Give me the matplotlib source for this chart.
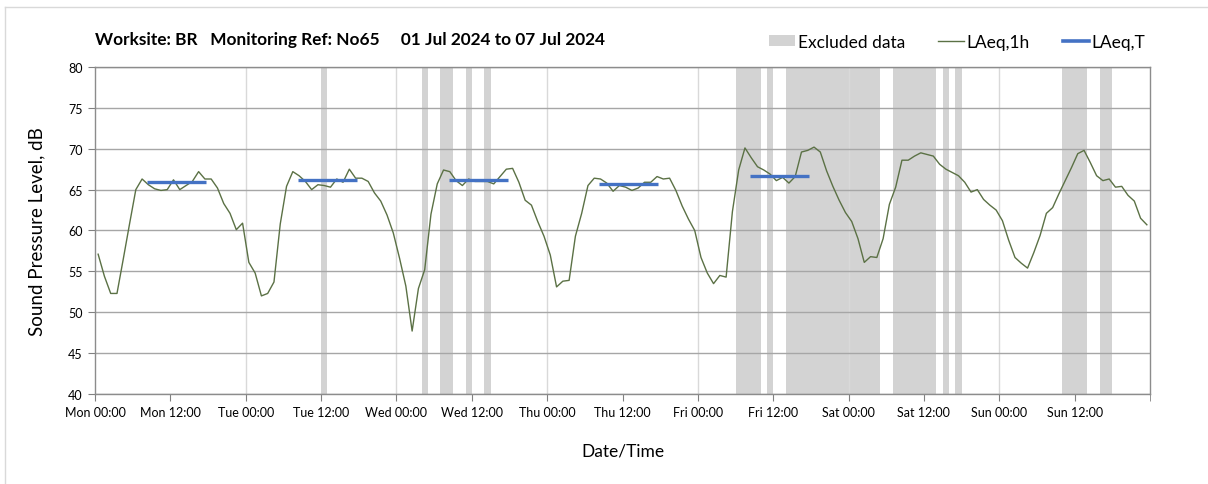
import numpy as np
import matplotlib
matplotlib.use("Agg")
import matplotlib.pyplot as plt
from matplotlib.lines import Line2D
from matplotlib.patches import Patch

plt.rcParams["font.family"] = ["Lato", "DejaVu Sans"]

# Hourly LAeq,1h values (dB), Mon 00:00 .. Sun 23:00
laeq_1h = [
    57.1, 54.4, 52.3, 52.3, 56.5, 60.8, 65.0, 66.3, 65.6, 65.1, 64.9, 65.0,
    66.2, 65.0, 65.5, 66.0, 67.2, 66.3, 66.3, 65.2, 63.3, 62.1, 60.1, 60.9,
    56.1, 54.8, 52.0, 52.3, 53.7, 60.8, 65.4, 67.2, 66.7, 66.0, 65.0, 65.6,
    65.5, 65.3, 66.3, 65.9, 67.5, 66.4, 66.4, 66.0, 64.6, 63.6, 61.9, 59.7,
    56.6, 53.2, 47.7, 52.9, 55.2, 62.0, 65.7, 67.4, 67.2, 66.1, 65.5, 66.3,
    66.0, 66.0, 66.0, 65.7, 66.6, 67.5, 67.6, 65.9, 63.7, 63.1, 61.1, 59.3,
    57.0, 53.1, 53.8, 53.9, 59.3, 62.1, 65.5, 66.4, 66.3, 65.8, 64.8, 65.5,
    65.3, 64.9, 65.2, 65.9, 65.9, 66.6, 66.3, 66.4, 64.9, 63.0, 61.4, 60.0,
    56.7, 54.8, 53.5, 54.5, 54.3, 62.3, 67.4, 70.1, 68.9, 67.8, 67.4, 66.9,
    66.1, 66.5, 65.8, 66.6, 69.6, 69.8, 70.2, 69.6, 67.3, 65.4, 63.7, 62.2,
    61.1, 59.0, 56.1, 56.8, 56.7, 59.0, 63.2, 65.3, 68.6, 68.6, 69.1, 69.5,
    69.3, 69.1, 68.1, 67.5, 67.1, 66.7, 65.9, 64.7, 65.0, 63.8, 63.1, 62.5,
    61.2, 58.8, 56.7, 56.0, 55.4, 57.3, 59.4, 62.1, 62.8, 64.5, 66.1, 67.7,
    69.4, 69.8, 68.3, 66.7, 66.1, 66.3, 65.3, 65.4, 64.3, 63.6, 61.5, 60.7,
]

# LAeq,T daytime averages (Mon..Fri), with start/end hour of day
laeq_t_days = [0, 1, 2, 3, 4]
laeq_t = [65.9, 66.2, 66.2, 65.7, 66.7]
laeq_t_start = 8.3
laeq_t_end = 17.7

# excluded periods, hours from Mon 00:00
excluded = [
    (36, 37), (52, 53), (55, 57), (59, 60), (62, 63), (102, 106), (107, 108),
    (110, 125), (127, 134), (135, 136), (137, 138), (154, 158), (160, 162),
]

days = ["Mon", "Tue", "Wed", "Thu", "Fri", "Sat", "Sun"]
tick_labels = [f"{d} {t}" for d in days for t in ("00:00", "12:00")]

grey_span = "#d3d3d3"
green = "#5b7145"
blue = "#4472c4"

fig = plt.figure(figsize=(12.08, 4.85), dpi=100)
ax = fig.add_axes([95 / 1208, 1 - 395 / 485, 1055 / 1208, 327 / 485])

for a, b in excluded:
    ax.axvspan(a, b, color=grey_span, lw=0, zorder=0.2)

hours = np.arange(len(laeq_1h)) + 0.5
ax.plot(hours, laeq_1h, color=green, lw=1.0, zorder=3)

for d, v in zip(laeq_t_days, laeq_t):
    ax.plot([24 * d + laeq_t_start, 24 * d + laeq_t_end], [v, v],
            color=blue, lw=2.4, solid_capstyle="butt", zorder=4)

ax.set_xlim(0, 168)
ax.set_ylim(40, 80)
ax.set_xticks(np.arange(0, 168, 12))
ax.set_xticklabels(tick_labels, fontsize=9)
ax.set_xticks([168], minor=True)
ax.set_yticks(np.arange(40, 81, 5))
ax.tick_params(axis="y", labelsize=9, length=5, color="#808080", pad=4)
ax.tick_params(axis="x", which="both", length=5, color="#808080", pad=4)

ax.set_axisbelow(True)
ax.yaxis.grid(True, color="#a6a6a6", lw=1.0)
for d in range(1, 7):
    ax.axvline(24 * d, color="#d9d9d9", lw=1.0, zorder=0.5)
for s in ax.spines.values():
    s.set_color("#8c8c8c")
    s.set_linewidth(1.0)

ax.set_ylabel("Sound Pressure Level, dB", fontsize=13.5, labelpad=16)
ax.set_xlabel("Date/Time", fontsize=12.5, labelpad=17)

fig.text(95 / 1208, 1 - 40 / 485,
         "Worksite: BR   Monitoring Ref: No65     01 Jul 2024 to 07 Jul 2024",
         fontsize=12.4, fontweight="bold", va="center", ha="left")

handles = [
    Patch(facecolor=grey_span, edgecolor="none"),
    Line2D([], [], color=green, lw=1.0),
    Line2D([], [], color=blue, lw=2.6),
]
fig.legend(handles, ["Excluded data", "LAeq,1h", "LAeq,T"],
           loc="center right", bbox_to_anchor=(1154 / 1208, 1 - 43 / 485),
           ncol=3, frameon=False, fontsize=12.5, handlelength=1.5,
           handletextpad=0.15, columnspacing=1.9, handleheight=0.6,
           borderpad=0.0)

# surrounding panel border
fig.add_artist(Line2D([5 / 1208, 1], [1 - 8 / 485, 1 - 8 / 485],
                      color="#d9d9d9", lw=1.0))
fig.add_artist(Line2D([5 / 1208, 5 / 1208], [0, 1 - 8 / 485],
                      color="#d9d9d9", lw=1.0))

fig.savefig("out.png", dpi=100)
